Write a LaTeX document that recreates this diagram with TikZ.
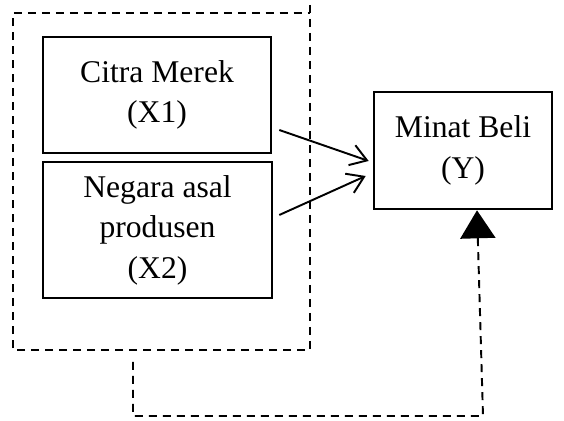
\documentclass[tikz,border=0pt]{standalone}
\usepackage{fontspec}
\setmainfont{Liberation Serif}
\usetikzlibrary{positioning, arrows.meta}

\begin{document}
\begin{tikzpicture}[x=0.02cm, y=-0.02cm,
    var/.style={draw, line width=1.5pt, align=center, inner sep=0pt,
      font=\fontsize{18}{23}\selectfont},
    arr/.style={line width=1.1pt, -{Straight Barb[length=0.32cm, width=0.42cm]}},
    dsh/.style={line width=1.1pt, dash pattern=on 0.16cm off 0.12cm}]
        \useasboundingbox (0,0) rectangle (564,421);

        % Variables
        \node[var, minimum width=4.56cm, minimum height=2.32cm] (cm) at (157,95) {Citra Merek\\(X1)};
        \node[var, minimum width=4.58cm, minimum height=2.72cm] (neg) at (157.5,230) {Negara asal\\produsen\\(X2)};
        \node[var, minimum width=3.56cm, minimum height=2.34cm] (minat) at (463,150.5) {Minat Beli\\(Y)};

        % Dashed frame round X1 and X2
        \draw[dsh] (310,5) -- (310,350) -- (13,350) -- (13,13) -- (310,13);

        % Partial effects
        \draw[arr] ([shift={(7,35)}]cm.east) -- ([shift={(-4,10.5)}]minat.west);
        \draw[arr] ([shift={(6,-15)}]neg.east) -- ([shift={(-7,25.5)}]minat.west);

        % Joint effect
        \coordinate (fb) at (133,362);
        \coordinate (fc) at (483,416);
        \draw[dsh, -{Triangle[length=0.56cm, width=0.7cm]}] (fb) |- (fc) -- ([xshift=0.28cm]minat.south);
      \end{tikzpicture}
\end{document}
